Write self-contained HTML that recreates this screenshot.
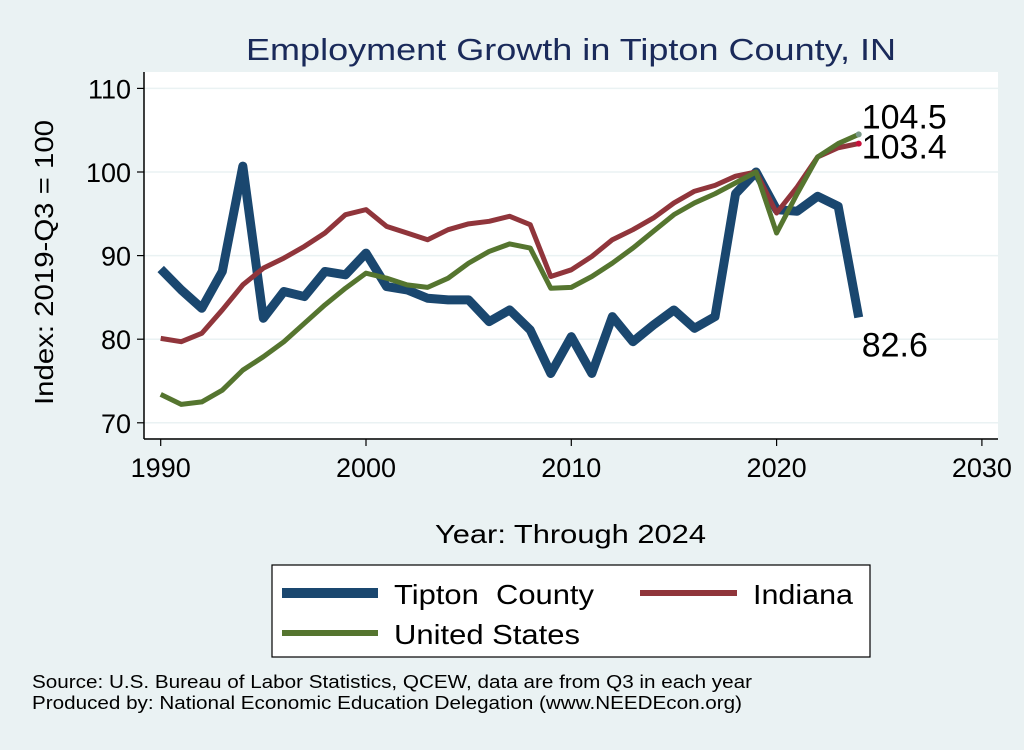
<!DOCTYPE html>
<html><head><meta charset="utf-8"><style>
body{margin:0;background:#eaf2f3;width:1024px;height:745px;overflow:hidden;font-family:"Liberation Sans",sans-serif}
</style></head><body>
<svg width="1024" height="745" viewBox="0 0 1024 745">
<rect x="0" y="0" width="1024" height="745" fill="#eaf2f3"/>
<text x="246" y="60" font-size="31" fill="#1a2a5a" textLength="650" lengthAdjust="spacingAndGlyphs">Employment Growth in Tipton County, IN</text>
<rect x="144" y="72" width="854" height="366" fill="#fff"/>
<g id="grid"></g>
<line x1="144" y1="72" x2="144" y2="439" stroke="#000" stroke-width="1.5"/>
<line x1="144" y1="439" x2="998" y2="439" stroke="#000" stroke-width="1.5"/>
<g id="ticks"></g>
<g id="series"></g>
<g id="labels"></g>
<text x="53" y="405" font-size="26" textLength="285" lengthAdjust="spacingAndGlyphs" transform="rotate(-90 53 405)">Index: 2019-Q3 = 100</text>
<text x="435" y="543" font-size="26" textLength="271" lengthAdjust="spacingAndGlyphs">Year: Through 2024</text>
<g>
<rect x="272" y="565" width="598" height="92" fill="#fff" stroke="#000" stroke-width="1.2"/>
<g><line x1="282" y1="593" x2="378" y2="593" stroke="#1a476f" stroke-width="10"/><text x="394" y="604" font-size="28" textLength="200" lengthAdjust="spacingAndGlyphs" xml:space="preserve">Tipton  County</text></g>
<g><line x1="640" y1="593" x2="737" y2="593" stroke="#90353b" stroke-width="6"/><text x="753" y="604" font-size="28" textLength="100" lengthAdjust="spacingAndGlyphs">Indiana</text></g>
<g><line x1="282" y1="633" x2="378" y2="633" stroke="#55752f" stroke-width="6"/><text x="394" y="644" font-size="28" textLength="186" lengthAdjust="spacingAndGlyphs">United States</text></g>
</g>
<text x="32" y="688" font-size="18" textLength="720" lengthAdjust="spacingAndGlyphs">Source: U.S. Bureau of Labor Statistics, QCEW, data are from Q3 in each year</text>
<text x="32" y="709" font-size="18" textLength="710" lengthAdjust="spacingAndGlyphs">Produced by: National Economic Education Delegation (www.NEEDEcon.org)</text>
</svg>
<script>
const years=[1990,1991,1992,1993,1994,1995,1996,1997,1998,1999,2000,2001,2002,2003,2004,2005,2006,2007,2008,2009,2010,2011,2012,2013,2014,2015,2016,2017,2018,2019,2020,2021,2022,2023,2024];
const tipton=[88.4,85.9,83.7,88.1,100.7,82.5,85.7,85.1,88.1,87.7,90.3,86.3,85.9,84.9,84.7,84.7,82.1,83.5,81.1,75.9,80.3,75.9,82.7,79.7,81.7,83.5,81.3,82.7,97.4,100,95.5,95.3,97.1,95.9,82.6];
const indiana=[80.1,79.7,80.7,83.5,86.5,88.5,89.7,91.1,92.7,94.9,95.5,93.5,92.7,91.9,93.1,93.8,94.1,94.7,93.7,87.5,88.3,89.9,91.9,93.1,94.5,96.3,97.7,98.4,99.5,100,95.1,98.2,101.8,102.9,103.4];
const us=[73.4,72.2,72.5,73.9,76.3,77.9,79.7,81.9,84.1,86.1,87.9,87.3,86.5,86.2,87.3,89.1,90.5,91.4,90.9,86.1,86.2,87.5,89.1,90.9,92.9,94.9,96.3,97.4,98.7,100,92.7,97.4,101.8,103.4,104.5];
const yTicks=[70,80,90,100,110];
const xTicks=[1990,2000,2010,2020,2030];
const NS='http://www.w3.org/2000/svg';
function xs(v){return 160.7+(v-1990)*20.53;}
function ys(v){return 172-(v-100)*8.36;}
function mk(t,a,p){const e=document.createElementNS(NS,t);for(const k in a)e.setAttribute(k,a[k]);p.appendChild(e);return e;}
const grid=document.getElementById('grid'),ticks=document.getElementById('ticks'),series=document.getElementById('series'),labels=document.getElementById('labels');
yTicks.forEach(v=>{
 const g=mk('line',{x1:144,x2:998,y1:ys(v),y2:ys(v),stroke:'#eaf2f3','stroke-width':1.5},grid);
 
 
 mk('line',{x1:137,x2:144,y1:ys(v),y2:ys(v),stroke:'#000','stroke-width':1.2},ticks);
 const t=mk('text',{x:131,y:ys(v)+10,'font-size':27,'text-anchor':'end'},ticks);t.textContent=v;
 
 
});
xTicks.forEach(v=>{
 mk('line',{x1:xs(v),x2:xs(v),y1:439,y2:446,stroke:'#000','stroke-width':1.2},ticks);
 const t=mk('text',{x:xs(v),y:477,'font-size':27,'text-anchor':'middle'},ticks);t.textContent=v;
 
 
});
function line(d,c,w,name){
 const p=mk('polyline',{points:d.map((v,i)=>xs(years[i])+','+ys(v)).join(' '),fill:'none',stroke:c,'stroke-width':w,'stroke-linejoin':'round'},series);
 
 
}
line(tipton,'#1a476f',9,'tipton-line');
line(indiana,'#90353b',5,'indiana-line');
line(us,'#55752f',5,'us-line');
const n=years.length-1,lx=xs(years[n]);
mk('circle',{cx:lx,cy:ys(us[n]),r:3,fill:'#7a9a88'},series);
mk('circle',{cx:lx,cy:ys(indiana[n]),r:3,fill:'#c8103a'},series);
function lab(txt,y,name){const t=mk('text',{x:lx+3,y:y,'font-size':34},labels);t.textContent=txt;
 
 }
lab(us[n].toFixed(1),ys(us[n])-6,'us-end-label');
lab(indiana[n].toFixed(1),ys(indiana[n])+15,'indiana-end-label');
lab(tipton[n].toFixed(1),ys(tipton[n])+39,'tipton-end-label');
</script>
</body></html>
